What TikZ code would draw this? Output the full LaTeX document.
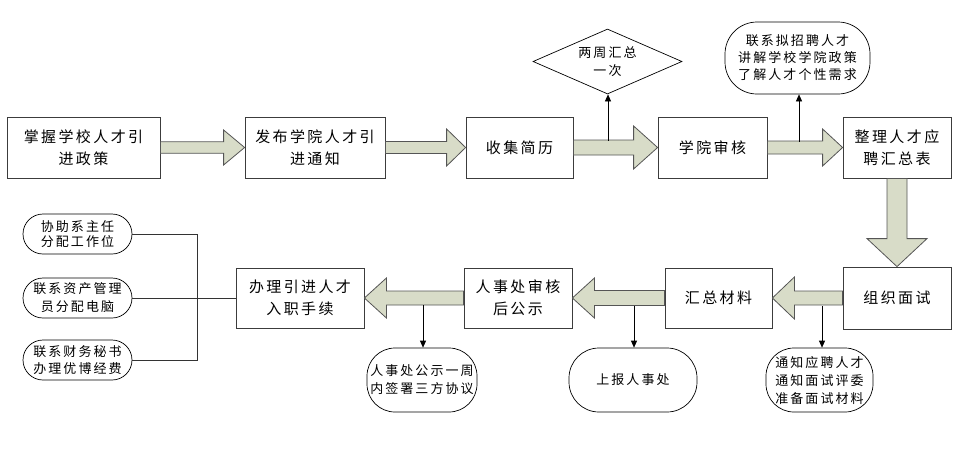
\documentclass[tikz,border=0pt]{standalone}
\usepackage{fontspec}
\newfontfamily\cjk[LetterSpace=16]{Noto Sans CJK SC}
\usetikzlibrary{shapes.geometric,calc,arrows.meta}
\definecolor{fatfill}{RGB}{216,220,200}
\definecolor{fatline}{RGB}{85,85,85}
\definecolor{boxline}{RGB}{60,60,60}
\newcommand\myfatR[5]{\draw[fatarrow] ($(#1.east)+(0,-#3)$) -- ($(#2.west)+(-#5,-#3)$) -- ($(#2.west)+(-#5,-#4)$) -- (#2.west) -- ($(#2.west)+(-#5,#4)$) -- ($(#2.west)+(-#5,#3)$) -- ($(#1.east)+(0,#3)$) -- cycle;}
\newcommand\myfatL[5]{\draw[fatarrow] ($(#1.west)+(0,-#3)$) -- ($(#2.east)+(#5,-#3)$) -- ($(#2.east)+(#5,-#4)$) -- (#2.east) -- ($(#2.east)+(#5,#4)$) -- ($(#2.east)+(#5,#3)$) -- ($(#1.west)+(0,#3)$) -- cycle;}
\begin{document}
\begin{tikzpicture}[x=1pt,y=-1pt,
  box/.style={draw=boxline, fill=white, line width=0.8pt, minimum height=61pt, inner sep=0pt, align=center, font=\cjk\fontsize{15}{22}\selectfont},
  pill/.style={draw=black, fill=white, line width=0.7pt, inner sep=0pt, align=center, font=\cjk\fontsize{13}{17}\selectfont},
  fatarrow/.style={draw=fatline, fill=fatfill, line width=0.8pt, line join=miter},
  thinarr/.style={draw=black, line width=0.7pt, -{Triangle[length=7pt,width=6pt]}},
  link/.style={draw=black!80, line width=0.7pt}]
\useasboundingbox (0,0) rectangle (978,467);
% top row
\node[box, minimum width=153pt] (b1) at (83.5,147.5) {掌握学校人才引\\进政策};
\node[box, minimum width=140pt] (b2) at (315,147.5) {发布学院人才引\\进通知};
\node[box, minimum width=107pt] (b3) at (519.5,147.5) {收集简历};
\node[box, minimum width=109pt] (b4) at (712.5,147.5) {学院审核};
\node[box, minimum width=108pt] (b5) at (897,147.5) {整理人才应\\聘汇总表};
% bottom row
\node[box, minimum width=108pt, minimum height=62pt] (b6) at (897,298) {组织面试};
\node[box, minimum width=107pt, minimum height=60pt] (b7) at (718.5,298) {汇总材料};
\node[box, minimum width=108pt, minimum height=60pt] (b8) at (518,298) {人事处审核\\后公示};
\node[box, minimum width=128pt, minimum height=60pt] (b9) at (300,298) {办理引进人才\\入职手续};
% top annotations
\node[pill, draw, shape=diamond, aspect=2.29, minimum width=149pt, minimum height=65pt, font=\cjk\fontsize{13}{18}\selectfont] (d1) at (607.5,61.5) {两周汇总\\一次};
\node[pill, rounded corners=32pt, minimum width=145pt, minimum height=72pt] (s0) at (797.5,58) {联系拟招聘人才\\讲解学校学院政策\\了解人才个性需求};
% left pills
\node[pill, rounded corners=20pt, minimum width=109pt, minimum height=40pt, font=\cjk\fontsize{13}{15}\selectfont] (l1) at (77.5,234) {协助系主任\\分配工作位};
\node[pill, rounded corners=20pt, minimum width=109pt, minimum height=40pt, font=\cjk\fontsize{13}{18}\selectfont] (l2) at (77.5,298) {联系资产管理\\员分配电脑};
\node[pill, rounded corners=20pt, minimum width=109pt, minimum height=40pt, font=\cjk\fontsize{13}{17}\selectfont] (l3) at (77.5,360) {联系财务秘书\\办理优博经费};
% bottom pills
\node[pill, rounded corners=28pt, minimum width=110pt, minimum height=64pt, font=\cjk\fontsize{13}{18}\selectfont] (s1) at (422,380) {人事处公示一周\\内签署三方协议};
\node[pill, rounded corners=30pt, minimum width=128pt, minimum height=64pt] (s2) at (633,380) {上报人事处};
\node[pill, rounded corners=28pt, minimum width=107pt, minimum height=64pt, font=\cjk\fontsize{13}{18}\selectfont] (s3) at (819.5,380) {通知应聘人才\\通知面试评委\\准备面试材料};
% fat arrows
\myfatR{b1}{b2}{5.75}{17.5}{21}
\myfatR{b2}{b3}{6}{18.5}{19}
\myfatR{b3}{b4}{7.5}{21.5}{24}
\myfatR{b4}{b5}{6.5}{18.5}{20}
\draw[fatarrow] ($(b5.south)+(-10,0)$) -- ($(b6.north)+(-10,-28)$) -- ($(b6.north)+(-30,-28)$) -- (b6.north) -- ($(b6.north)+(30,-28)$) -- ($(b6.north)+(10,-28)$) -- ($(b5.south)+(10,0)$) -- cycle;
\myfatL{b6}{b7}{7}{21}{22}
\myfatL{b7}{b8}{7.5}{20}{22}
\myfatL{b8}{b9}{7}{20}{22}
% thin arrows
\coordinate (t1) at (608,140.5);
\coordinate (t2) at (799,141.5);
\coordinate (t3) at (423,305);
\coordinate (t4) at (634,305.5);
\coordinate (t5) at (822,306);
\draw[thinarr] (t1) -- (t1 |- d1.south);
\draw[thinarr] (t2) -- (t2 |- s0.south);
\draw[thinarr] (t3) -- (t3 |- s1.north);
\draw[thinarr] (t4) -- (t4 |- s2.north);
\draw[thinarr] (t5) -- (t5 |- s3.north);
% left connectors
\coordinate (j) at (197,298);
\draw[link] (l1.east) -| (j);
\draw[link] (l3.east) -| (j);
\draw[link] (l2.east) -- (b9.west);
\end{tikzpicture}
\end{document}
